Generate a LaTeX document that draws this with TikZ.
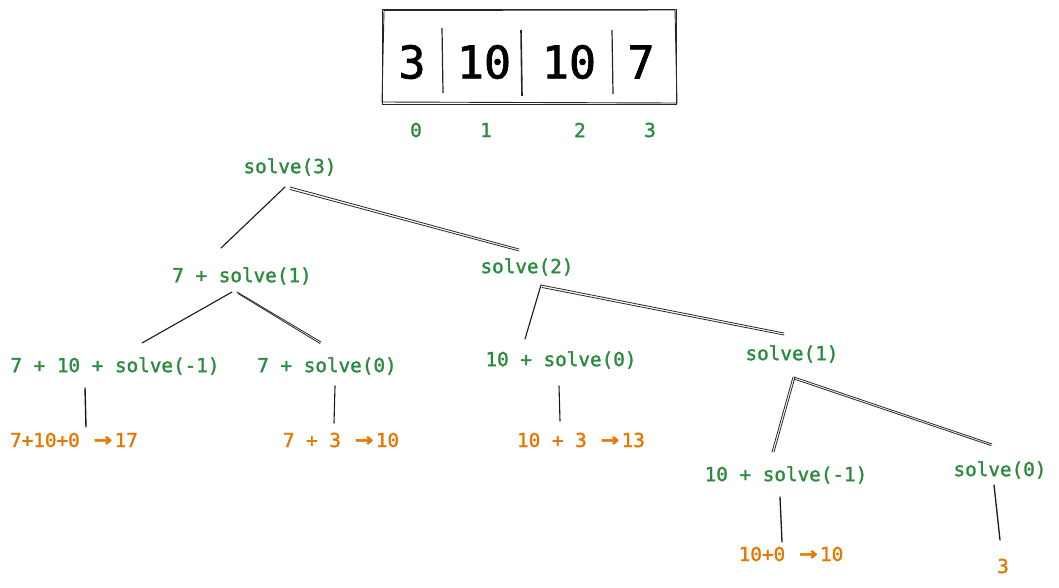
\documentclass[tikz,border=0pt]{standalone}
\usepackage{fontspec}
\setmainfont{DejaVu Sans Mono}
\setmonofont{DejaVu Sans Mono}
\newfontfamily\labelfont[FakeBold=1.6]{DejaVu Sans Mono}
\newfontfamily\arrowfont[FakeBold=2]{DejaVu Sans Mono}
\usetikzlibrary{calc}
\definecolor{tgreen}{HTML}{2B8A3E}
\definecolor{torange}{HTML}{E67700}
\newcommand{\arr}{\makebox[1.204em][c]{\scalebox{1.55}[1.25]{\arrowfont →}}}
\tikzset{
  lbl/.style={inner sep=0pt, text=tgreen, font=\fontsize{19.3}{23}\selectfont\labelfont},
  res/.style={inner sep=0pt, text=torange, font=\fontsize{19.3}{23}\selectfont\labelfont},
  cell/.style={inner sep=0pt, text=black, font=\fontsize{45}{50}\selectfont\labelfont},
  idx/.style={inner sep=0pt, text=tgreen, font=\fontsize{19.3}{23}\selectfont\labelfont},
  edge/.style={draw=black!90, line width=1.1pt, line cap=round},
  edgeb/.style={draw=black!85, line width=0.8pt, line cap=round},
  frame/.style={draw=black!85, line width=0.9pt},
}
\begin{document}
\begin{tikzpicture}[x=1pt,y=-1pt]
\useasboundingbox (0,0) rectangle (1059,587);
\fill[white] (0,0) rectangle (1059,587);

% array box
\coordinate (bx1) at (382,9);
\coordinate (bx2) at (676,104);
\draw[frame] (bx1) rectangle (bx2);
\draw[frame] ($(bx1)+(2,1.5)$) -- ($(bx2)+(-1,-94)$) -- ($(bx2)+(1,-1)$) -- ($(bx1)+(0,93)$) -- cycle;
\draw[frame, line width=1.2pt] (442,28) -- (443,93);
\draw[frame, line width=1.6pt] (521,30) -- (522,96);
\draw[frame, line width=1.2pt] (612,30) -- (613,94);
\node[cell] (c0) at (412,62) {3};
\node[cell] (c1) at (484,62) {10};
\node[cell] (c2) at (569,62) {10};
\node[cell] (c3) at (641,62) {7};
\node[idx] (i0) at (416,130) {0};
\node[idx] (i1) at (486,130) {1};
\node[idx] (i2) at (580,130) {2};
\node[idx] (i3) at (650,130) {3};

% tree nodes
\node[lbl] (s3) at (290,167) {solve(3)};
\node[lbl] (a)  at (242,276) {7 + solve(1)};
\node[lbl] (b)  at (527,267) {solve(2)};
\node[lbl] (c)  at (115,366) {7 + 10 + solve(-1)};
\node[lbl] (d)  at (327,366) {7 + solve(0)};
\node[lbl] (e)  at (561,360) {10 + solve(0)};
\node[lbl] (f)  at (792,354) {solve(1)};
\node[lbl] (g)  at (786,475) {10 + solve(-1)};
\node[lbl] (h)  at (1000,470) {solve(0)};
\node[res] (o1) at (74,440) {7+10+0 \arr17};
\node[res] (o2) at (341,440) {7 + 3 \arr10};
\node[res] (o3) at (581,440) {10 + 3 \arr13};
\node[res] (o4) at (791,554) {10+0 \arr10};
\node[res] (o5) at (1003,566) {3};

% connectors
\draw[edge] ($(s3)+(-5,20)$) -- ($(a)+(-21,-28)$);
\draw[edgeb] ($(s3)+(0,20)$) -- ($(b)+(-8,-18)$);
\draw[edgeb] ($(s3)+(0,22.5)$) -- ($(b)+(-8,-16)$);

\draw[edge] ($(a)+(-10,16)$) -- ($(c)+(27,-23)$);
\draw[edgeb] ($(a)+(-5,16)$) -- ($(d)+(-6,-24)$);
\draw[edgeb] ($(a)+(-4,17.5)$) -- ($(d)+(-7,-22.5)$);

\draw[edge] ($(b)+(14,18)$) -- ($(e)+(-36,-21)$);
\draw[edgeb] ($(b)+(14,18)$) -- ($(f)+(-8,-21)$);
\draw[edgeb] ($(b)+(15,20.5)$) -- ($(f)+(-8,-19)$);

\draw[edge, line width=1.4pt] ($(c)+(-30,22)$) -- ($(o1)+(12,-13)$);
\draw[edge] ($(d)+(8,20)$) -- ($(o2)+(-7,-17)$);
\draw[edge] ($(e)+(-2,26)$) -- ($(o3)+(-21,-19)$);

\draw[edgeb] ($(f)+(1,23)$) -- ($(g)+(-14,-23)$);
\draw[edgeb] ($(f)+(3,23)$) -- ($(g)+(-12,-23)$);
\draw[edgeb] ($(f)+(2,23)$) -- ($(h)+(-8,-26)$);
\draw[edgeb] ($(f)+(2,25)$) -- ($(h)+(-9,-24.5)$);

\draw[edge, line width=1.3pt] ($(g)+(-6,22)$) -- ($(o4)+(-9,-12)$);
\draw[edge, line width=1.3pt] ($(h)+(-6,15)$) -- ($(o5)+(-3,-26)$);
\end{tikzpicture}
\end{document}
